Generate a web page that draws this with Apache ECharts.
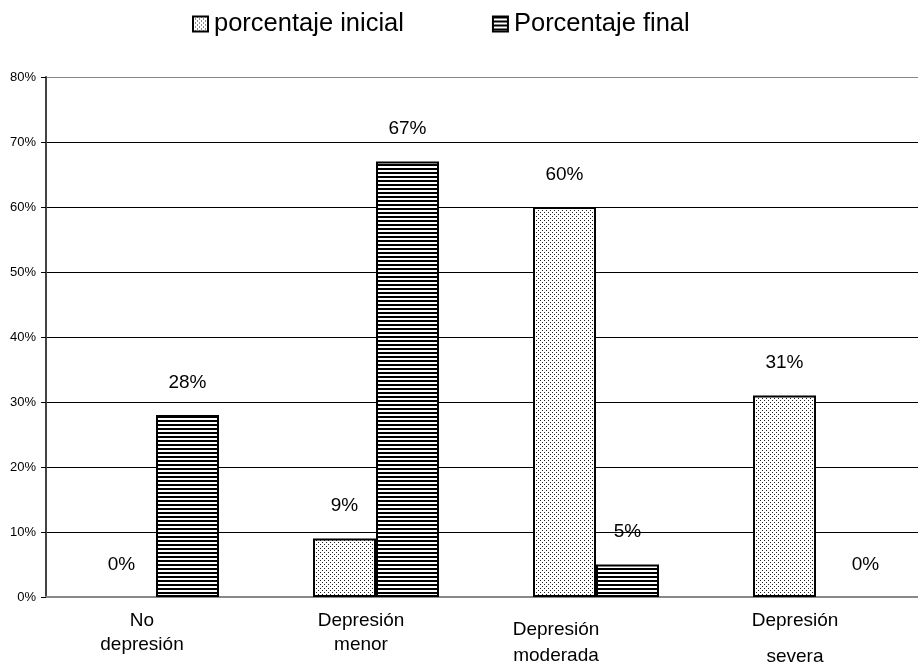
<!DOCTYPE html>
<html><head><meta charset="utf-8">
<script src="https://cdn.jsdelivr.net/npm/echarts@6/dist/echarts.min.js"></script>
<style>html,body{margin:0;padding:0;background:#fff;overflow:hidden;width:918px;height:669px}#c{width:928px;height:669px}</style>
</head><body><div id="c"></div>
<script>
var categories = ['No depresión', 'Depresión menor', 'Depresión moderada', 'Depresión severa'];
var seriesNames = ['porcentaje inicial', 'Porcentaje final'];
var inicial = [0, 9, 60, 31];
var final = [28, 67, 5, 0];
var yTicks = [0, 10, 20, 30, 40, 50, 60, 70, 80];

function dotPattern() {
  var c = document.createElement('canvas'); c.width = 4; c.height = 4;
  var g = c.getContext('2d');
  g.fillStyle = '#fff'; g.fillRect(0, 0, 4, 4);
  g.fillStyle = '#222'; g.fillRect(0, 0, 1, 1); g.fillRect(2, 2, 1, 1);
  return c;
}
function stripePattern() {
  var c = document.createElement('canvas'); c.width = 4; c.height = 4;
  var g = c.getContext('2d');
  g.fillStyle = '#fff'; g.fillRect(0, 0, 4, 4);
  g.fillStyle = '#000'; g.fillRect(0, 0, 4, 2);
  return c;
}

var labelFont = 'Liberation Sans, Arial, sans-serif';
var chart = echarts.init(document.getElementById('c'), null, {renderer: 'canvas'});

function barItems(values, offsets) {
  return values.map(function (v, i) {
    var item = {value: v, label: {offset: offsets[i] || [0, 0]}};
    if (v === 0) item.itemStyle = {borderWidth: 0, color: 'rgba(0,0,0,0)'};
    return item;
  });
}

var splitColors = yTicks.map(function (t, i) { return i === yTicks.length - 1 ? '#888' : '#000'; });

chart.setOption({
  animation: false,
  backgroundColor: '#fff',
  textStyle: {fontFamily: labelFont},
  legend: {
    top: 6, left: 187, itemGap: 88, itemWidth: 15, itemHeight: 15, icon: 'rect',
    textStyle: {fontSize: 25.5, color: '#000', fontFamily: labelFont, padding: [0, 0, 0, 1]},
    data: seriesNames
  },
  grid: {left: 46, top: 77, bottom: 72, right: 2},
  xAxis: {
    type: 'category', data: categories,
    axisLine: {lineStyle: {color: '#888', width: 2}},
    axisTick: {show: false},
    axisLabel: {
      interval: 0, margin: 12, color: '#000', fontSize: 20, fontFamily: labelFont,
      formatter: function (v, i) {
        var p = v.split(' ');
        if (i === 0) return '{a0|' + p[0] + '}\n{a0|' + p[1] + '}';
        if (i === 1) return '{a1|' + p[0] + '}\n{a1|' + p[1] + '}';
        if (i === 2) return '{a2|' + p[0] + '}\n{b2|' + p[1] + '}';
        return '{a3|' + p[0] + '}\n{b3|' + p[1] + '}';
      },
      rich: {
        a0: {fontSize: 19, lineHeight: 24, padding: [0, 28, 0, 0], fontFamily: labelFont},
        a1: {fontSize: 19, lineHeight: 24, padding: [0, 30, 0, 0], fontFamily: labelFont},
        a2: {fontSize: 19, lineHeight: 42, padding: [0, 80, 0, 0], fontFamily: labelFont},
        b2: {fontSize: 19, lineHeight: 10, padding: [0, 80, 0, 0], fontFamily: labelFont},
        a3: {fontSize: 19, lineHeight: 24, padding: [0, 42, 0, 0], fontFamily: labelFont},
        b3: {fontSize: 19, lineHeight: 48, padding: [0, 42, 0, 0], fontFamily: labelFont}
      }
    }
  },
  yAxis: {
    type: 'value', min: 0, max: 80, interval: 10,
    axisLine: {show: true, lineStyle: {color: '#444', width: 2}},
    axisTick: {show: true, length: 5, lineStyle: {color: '#000', width: 1}},
    axisLabel: {formatter: '{value}%', color: '#000', fontSize: 13, margin: 10, fontFamily: labelFont},
    splitLine: {lineStyle: {color: splitColors, width: 1}}
  },
  series: [
    {
      name: seriesNames[0], type: 'bar', barWidth: 63, barGap: '0%',
      itemStyle: {color: {image: dotPattern(), repeat: 'repeat'}, borderColor: '#000', borderWidth: 2},
      label: {show: true, position: 'top', distance: 23, formatter: '{c}%', fontSize: 19, color: '#000', fontFamily: labelFont},
      data: barItems(inicial, {0: [-3, 0]})
    },
    {
      name: seriesNames[1], type: 'bar', barWidth: 63, barGap: '0%',
      itemStyle: {color: {image: stripePattern(), repeat: 'repeat'}, borderColor: '#000', borderWidth: 2},
      label: {show: true, position: 'top', distance: 23, formatter: '{c}%', fontSize: 19, color: '#000', fontFamily: labelFont},
      data: barItems(final, {3: [18, 0]})
    }
  ]
});
</script></body></html>
